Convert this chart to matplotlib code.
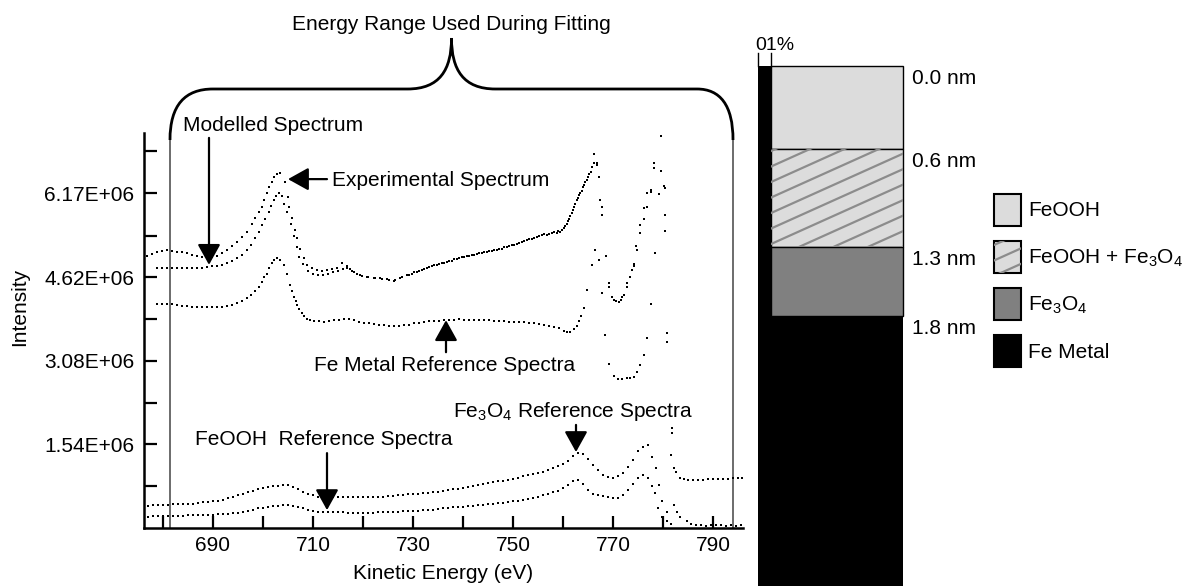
import numpy as np
import matplotlib
matplotlib.use('Agg')
import matplotlib.pyplot as plt
from matplotlib.path import Path
from matplotlib.patches import PathPatch, Rectangle
from matplotlib.transforms import blended_transform_factory

plt.rcParams['font.family'] = ['Liberation Sans', 'DejaVu Sans']
plt.rcParams['font.size'] = 15
plt.rcParams['mathtext.fontset'] = 'custom'
plt.rcParams['mathtext.rm'] = 'Liberation Sans'
plt.rcParams['mathtext.default'] = 'rm'

# ---- spectra, intensity in units of 1E+06 ----
# experimental spectrum (eV, intensity)
exp_pts = [(676.7, 5.01), (677.7, 5.05), (678.7, 5.09), (679.7, 5.11), (680.7, 5.12), (681.7, 5.11),
           (682.7, 5.09), (683.7, 5.08), (684.7, 5.06), (685.7, 5.03), (686.7, 5.01), (687.7, 5.00),
           (688.7, 4.99), (689.7, 5.00), (690.7, 5.02), (691.7, 5.07), (692.7, 5.12), (693.7, 5.20),
           (694.7, 5.28), (695.7, 5.37), (696.7, 5.46), (697.7, 5.60), (698.4, 5.71), (699.1, 5.82),
           (699.7, 5.92), (700.2, 6.05), (700.7, 6.17), (701.2, 6.28), (701.7, 6.38), (702.2, 6.46),
           (702.7, 6.52), (703.4, 6.54), (704.4, 6.38), (705.0, 6.10), (705.3, 5.92), (705.9, 5.71),
           (706.4, 5.49), (706.9, 5.34), (707.4, 5.15), (708.1, 4.97), (708.7, 4.85), (709.7, 4.79),
           (710.7, 4.75), (711.7, 4.74), (712.7, 4.75), (713.7, 4.77), (714.7, 4.79), (715.7, 4.88),
           (716.7, 4.83), (717.4, 4.78), (718.1, 4.72), (719.4, 4.66), (720.7, 4.63), (722.1, 4.61),
           (723.4, 4.60), (724.7, 4.58), (726.1, 4.56), (727.4, 4.60), (728.7, 4.66), (729.7, 4.69),
           (730.7, 4.72), (731.7, 4.76), (732.7, 4.79), (733.7, 4.82), (734.7, 4.85), (735.7, 4.88),
           (736.7, 4.91), (737.7, 4.93), (738.7, 4.95), (739.7, 4.99), (740.7, 5.01), (741.7, 5.03),
           (742.7, 5.05), (743.7, 5.07), (744.7, 5.09), (745.7, 5.11), (746.7, 5.13), (747.7, 5.15),
           (748.7, 5.18), (749.7, 5.21), (750.7, 5.24), (751.7, 5.27), (752.7, 5.31), (753.7, 5.33),
           (754.7, 5.37), (755.7, 5.40), (756.7, 5.40), (757.7, 5.43), (758.7, 5.44), (759.4, 5.46),
           (760.1, 5.52), (760.7, 5.61), (761.2, 5.70), (761.7, 5.80), (762.2, 5.92), (762.7, 6.04),
           (763.2, 6.13), (763.7, 6.22), (764.2, 6.32), (764.7, 6.41), (765.2, 6.52), (765.7, 6.66),
           (766.3, 6.90), (766.8, 6.72), (767.1, 6.47), (767.7, 5.92), (767.9, 5.77), (769.3, 4.51),
           (770.1, 4.20), (771.1, 4.17), (771.9, 4.26), (772.7, 4.45), (773.4, 4.63), (774.1, 4.87),
           (774.6, 5.20), (775.4, 5.58), (776.1, 5.89), (776.9, 6.17), (777.5, 6.23), (778.3, 6.73),
           (778.9, 7.43), (779.6, 7.22), (780.4, 6.26), (780.4, 5.77), (780.4, 5.47)]

# modelled spectrum
model_pts = [(678.8, 4.79), (679.8, 4.80), (680.8, 4.80), (681.8, 4.80), (682.8, 4.80), (683.8, 4.80),
             (684.8, 4.80), (685.8, 4.80), (686.8, 4.80), (687.8, 4.80), (688.8, 4.81), (689.8, 4.82),
             (690.7, 4.83), (691.7, 4.85), (692.7, 4.88), (693.7, 4.92), (694.7, 4.97), (695.7, 5.04),
             (696.7, 5.12), (697.6, 5.22), (698.4, 5.34), (699.1, 5.46), (699.7, 5.58), (700.4, 5.70),
             (701.1, 5.83), (701.6, 5.94), (702.1, 6.04), (702.6, 6.12), (703.1, 6.17), (703.7, 6.11),
             (704.3, 5.98), (704.8, 5.82), (705.6, 5.60), (706.2, 5.38), (706.7, 5.18), (707.3, 5.00),
             (708.0, 4.86), (709.0, 4.74), (710.0, 4.68), (711.0, 4.66), (712.0, 4.67), (713.0, 4.69),
             (714.0, 4.71), (715.0, 4.74), (716.0, 4.78), (716.9, 4.79), (717.8, 4.74), (718.8, 4.69),
             (719.8, 4.65), (721.0, 4.63), (722.5, 4.60), (723.8, 4.59), (725.2, 4.57), (726.5, 4.57),
             (727.8, 4.62), (729.2, 4.67), (730.2, 4.71), (731.2, 4.74), (732.2, 4.78), (733.2, 4.81),
             (734.2, 4.84), (735.2, 4.87), (736.2, 4.89), (737.2, 4.92), (738.2, 4.95), (739.2, 4.97),
             (740.2, 5.00), (741.2, 5.02), (742.2, 5.04), (743.2, 5.06), (744.2, 5.08), (745.2, 5.10),
             (746.2, 5.12), (747.2, 5.14), (748.2, 5.17), (749.2, 5.20), (750.2, 5.22), (751.2, 5.26),
             (752.2, 5.29), (753.2, 5.32), (754.2, 5.35), (755.2, 5.38), (756.2, 5.42), (757.2, 5.41),
             (758.2, 5.45), (759.0, 5.47), (759.8, 5.50), (760.4, 5.56), (761.0, 5.66), (761.5, 5.75),
             (762.0, 5.86), (762.5, 5.98), (763.0, 6.09), (763.5, 6.18), (764.0, 6.28), (764.5, 6.37),
             (765.0, 6.47), (765.6, 6.57), (766.1, 6.72), (766.9, 6.69), (767.5, 6.05), (768.5, 5.01),
             (769.2, 4.45), (769.9, 4.26), (770.6, 4.19), (771.5, 4.20), (772.1, 4.30), (772.9, 4.52),
             (773.7, 4.75), (774.1, 4.82), (774.9, 5.13), (775.4, 5.43), (776.1, 5.69), (776.7, 5.91),
             (777.5, 6.20), (778.3, 6.63), (778.9, 7.30), (779.6, 6.58), (779.1, 6.16), (780.2, 6.30)]

# Fe metal reference spectrum
metal_pts = [(678.8, 4.13), (679.8, 4.13), (680.8, 4.13), (681.8, 4.12), (682.8, 4.11), (683.8, 4.10),
             (684.8, 4.09), (685.8, 4.08), (686.8, 4.08), (687.8, 4.08), (688.8, 4.08), (689.8, 4.08),
             (690.8, 4.08), (691.8, 4.08), (692.8, 4.09), (693.8, 4.11), (694.8, 4.14), (695.8, 4.18),
             (696.7, 4.23), (697.6, 4.29), (698.4, 4.36), (699.1, 4.45), (699.7, 4.54), (700.2, 4.62),
             (700.7, 4.69), (701.2, 4.79), (701.7, 4.88), (702.2, 4.94), (702.7, 4.98), (703.4, 4.94),
             (704.2, 4.85), (704.8, 4.68), (705.4, 4.48), (705.8, 4.36), (706.2, 4.26), (706.6, 4.18),
             (706.9, 4.11), (707.3, 4.03), (707.7, 3.96), (708.2, 3.90), (708.7, 3.86), (709.4, 3.83),
             (710.1, 3.82), (711.1, 3.81), (712.1, 3.80), (713.1, 3.81), (714.1, 3.83), (715.1, 3.84),
             (716.1, 3.86), (717.1, 3.85), (718.1, 3.83), (719.1, 3.80), (720.1, 3.78), (721.1, 3.77),
             (722.1, 3.76), (723.1, 3.75), (724.1, 3.74), (725.1, 3.73), (726.1, 3.72), (727.1, 3.73),
             (728.1, 3.74), (729.1, 3.75), (730.1, 3.77), (731.1, 3.78), (732.1, 3.80), (733.1, 3.81),
             (734.1, 3.82), (735.1, 3.82), (736.1, 3.83), (737.1, 3.83), (738.1, 3.84), (739.1, 3.85),
             (740.1, 3.84), (741.1, 3.84), (742.1, 3.84), (743.1, 3.84), (744.1, 3.83), (745.1, 3.83),
             (746.1, 3.82), (747.1, 3.82), (748.1, 3.81), (749.1, 3.80), (750.1, 3.80), (751.1, 3.79),
             (752.1, 3.79), (753.1, 3.78), (754.1, 3.77), (755.1, 3.76), (756.1, 3.74), (757.1, 3.72),
             (758.1, 3.70), (759.1, 3.68), (760.1, 3.64), (760.8, 3.62), (761.4, 3.62), (762.1, 3.66),
             (762.7, 3.73), (763.2, 3.82), (763.6, 3.90), (764.2, 4.05), (764.9, 4.39), (765.9, 4.85),
             (766.4, 5.12), (767.1, 4.94), (767.9, 4.34), (768.4, 3.56), (769.1, 3.03), (770.1, 2.80),
             (771.0, 2.75), (771.9, 2.74), (772.7, 2.76), (773.4, 2.77), (774.1, 2.79), (774.9, 2.88),
             (775.4, 3.00), (776.1, 3.19), (776.7, 3.51), (777.6, 4.13), (778.4, 5.06), (780.9, 3.59),
             (780.9, 3.42)]

# reference spectra on a 1 eV grid, 677 ... 777 eV
ref_ev = list(range(677, 778))
fe3o4_vals = [0.41, 0.42, 0.42, 0.43, 0.43, 0.44, 0.44, 0.44, 0.45, 0.45,
              0.46, 0.47, 0.48, 0.49, 0.50, 0.52, 0.55, 0.58, 0.60, 0.63,
              0.66, 0.68, 0.71, 0.73, 0.75, 0.77, 0.78, 0.79, 0.79, 0.76,
              0.72, 0.67, 0.62, 0.60, 0.58, 0.58, 0.58, 0.58, 0.58, 0.57,
              0.57, 0.57, 0.57, 0.57, 0.57, 0.58, 0.58, 0.58, 0.59, 0.59,
              0.60, 0.61, 0.62, 0.62, 0.63, 0.64, 0.65, 0.66, 0.67, 0.69,
              0.70, 0.71, 0.72, 0.73, 0.75, 0.77, 0.79, 0.81, 0.83, 0.84,
              0.86, 0.87, 0.88, 0.90, 0.92, 0.95, 0.97, 0.99, 1.01, 1.04,
              1.07, 1.10, 1.14, 1.18, 1.24, 1.33, 1.39, 1.36, 1.28, 1.16,
              1.06, 0.98, 0.94, 0.93, 0.96, 1.02, 1.12, 1.25, 1.42, 1.50,
              1.53]
fe3o4_tail = [(777.9, 1.31), (778.6, 1.10), (779.1, 0.79), (779.9, 0.49), (780.7, 0.30), (781.6, 1.35),
              (781.7, 1.84), (781.8, 1.75), (782.3, 1.10), (782.5, 1.03), (783.4, 0.92), (784.2, 0.90),
              (785.0, 0.89), (786.0, 0.89), (787.0, 0.89), (788.0, 0.89), (789.0, 0.90), (790.0, 0.90),
              (791.0, 0.90), (792.0, 0.91), (793.0, 0.91), (794.0, 0.92), (795.0, 0.93), (795.7, 0.93)]
feooh_vals = [0.21, 0.22, 0.22, 0.23, 0.23, 0.23, 0.23, 0.23, 0.24, 0.24,
              0.24, 0.24, 0.24, 0.24, 0.25, 0.26, 0.26, 0.27, 0.28, 0.30,
              0.32, 0.34, 0.36, 0.37, 0.39, 0.40, 0.41, 0.42, 0.42, 0.41,
              0.39, 0.36, 0.33, 0.31, 0.30, 0.30, 0.30, 0.29, 0.29, 0.29,
              0.28, 0.28, 0.28, 0.28, 0.28, 0.28, 0.29, 0.29, 0.29, 0.30,
              0.30, 0.31, 0.31, 0.32, 0.32, 0.33, 0.33, 0.34, 0.35, 0.36,
              0.37, 0.38, 0.39, 0.39, 0.40, 0.41, 0.42, 0.43, 0.44, 0.45,
              0.46, 0.46, 0.47, 0.49, 0.50, 0.52, 0.54, 0.56, 0.58, 0.60,
              0.63, 0.66, 0.69, 0.73, 0.79, 0.86, 0.89, 0.82, 0.70, 0.63,
              0.61, 0.59, 0.57, 0.55, 0.55, 0.60, 0.70, 0.82, 0.93, 0.98,
              0.92]
feooh_tail = [(777.8, 0.78), (778.4, 0.64), (779.0, 0.36), (779.7, 0.21), (780.7, 0.12), (781.5, 0.08),
              (782.3, 0.42), (782.7, 0.30), (783.4, 0.21), (784.7, 0.12), (785.5, 0.07), (786.5, 0.06),
              (787.5, 0.05), (788.5, 0.04), (789.5, 0.06), (790.5, 0.05), (791.5, 0.05), (792.5, 0.04),
              (793.5, 0.05), (794.5, 0.04), (795.5, 0.05)]

fit_range = (681.4, 794.0)   # eV, energy range used during fitting

xtick_pos = [680, 690, 700, 710, 720, 730, 740, 750, 760, 770, 780, 790]
xtick_labels = ['', '690', '', '710', '', '730', '', '750', '', '770', '', '790']
ytick_labels = ['1.54E+06', '3.08E+06', '4.62E+06', '6.17E+06']
ytick_minor = [0.77, 2.31, 3.85, 5.39, 6.94]

# ---- depth profile ----
layer_names = ['FeOOH', 'FeOOH + Fe$_3$O$_4$', 'Fe$_3$O$_4$', 'Fe Metal']
layer_colors = ['#dcdcdc', '#dcdcdc', '#808080', 'black']
layer_tops = [0.0, 0.6, 1.3, 1.8]    # nm
depth_labels = ['0.0 nm', '0.6 nm', '1.3 nm', '1.8 nm']

W, H = 1185, 586
fig = plt.figure(figsize=(W / 100, H / 100), dpi=100)


def box(x0, y0, x1, y1):
    # pixel box (origin top left) -> figure fraction rect
    return [x0 / W, 1 - y1 / H, (x1 - x0) / W, (y1 - y0) / H]


ax = fig.add_axes(box(144, 133, 743, 528))
ax.set_xlim(676.2, 796.0)
ax.set_ylim(0, 7.28)

dot = dict(linestyle='none', marker='s', ms=2.0, mew=0, color='black', zorder=3)
for pts in [exp_pts, model_pts, metal_pts, fe3o4_tail, feooh_tail]:
    e, v = zip(*pts)
    ax.plot(e, v, **dot)
ax.plot(ref_ev, fe3o4_vals, **dot)
ax.plot(ref_ev, feooh_vals, **dot)

for x in fit_range:
    ax.axvline(x, ymin=0, ymax=(528 - 140) / 395, color='#606060', lw=1.3, zorder=1)

ax.set_xticks(xtick_pos)
ax.set_xticklabels(xtick_labels)
ax.set_yticks([float(s) / 1e6 for s in ytick_labels])
ax.set_yticklabels(ytick_labels)
ax.set_yticks(ytick_minor, minor=True)
ax.tick_params(which='both', direction='in', length=9, width=1.6, labelsize=15)
ax.tick_params(axis='y', pad=7)
ax.tick_params(axis='x', pad=6)
for s in ['top', 'right']:
    ax.spines[s].set_visible(False)
for s in ['left', 'bottom']:
    ax.spines[s].set_linewidth(1.8)

ax.set_ylabel('Intensity', va='center', fontsize=15)
ax.yaxis.set_label_coords(-0.207, 0.56)
ax.set_xlabel('Kinetic Energy (eV)', va='center', fontsize=15)
ax.xaxis.set_label_coords(0.5, -0.116)

arrow = dict(arrowstyle='-|>,head_length=0.9,head_width=0.5', color='black', lw=1.6,
             mutation_scale=14, shrinkA=0, shrinkB=0)
ax.annotate('', xy=(689.2, 4.85), xytext=(689.2, 7.19), arrowprops=arrow, annotation_clip=False)
ax.text(684.0, 7.41, 'Modelled Spectrum', ha='left', va='center')
ax.annotate('', xy=(705.0, 6.43), xytext=(712.8, 6.43), arrowprops=arrow)
ax.text(713.8, 6.40, 'Experimental Spectrum', ha='left', va='center')
ax.annotate('', xy=(736.6, 3.83), xytext=(736.6, 3.24), arrowprops=arrow)
ax.text(736.4, 2.99, 'Fe Metal Reference Spectra', ha='center', va='center')
ax.annotate('', xy=(712.8, 0.33), xytext=(712.8, 1.38), arrowprops=arrow)
ax.text(686.4, 1.64, 'FeOOH  Reference Spectra', ha='left', va='center')
ax.annotate('', xy=(762.6, 1.40), xytext=(762.6, 1.90), arrowprops=arrow)
ax.text(738.0, 2.14, 'Fe$_3$O$_4$ Reference Spectra', ha='left', va='center')

# overlay in pixel coordinates for the brace and the legend
ov = fig.add_axes([0, 0, 1, 1])
ov.set_xlim(0, W)
ov.set_ylim(H, 0)
ov.axis('off')

xl = ax.transData.transform((fit_range[0], 0))[0]
xr = ax.transData.transform((fit_range[1], 0))[0]
xm = (xl + xr) / 2
yb, yh, yt = 140, 89, 38
verts = [(xl, yb), (xl, yh + 16), (xl + 15, yh), (xl + 43, yh),
         (xm - 44, yh), (xm - 12, yh), (xm, yh - 19), (xm, yt),
         (xm, yh - 19), (xm + 12, yh), (xm + 44, yh),
         (xr - 36, yh), (xr - 13, yh), (xr, yh + 16), (xr, yb)]
codes = [Path.MOVETO, Path.CURVE4, Path.CURVE4, Path.CURVE4,
         Path.LINETO, Path.CURVE4, Path.CURVE4, Path.CURVE4,
         Path.CURVE4, Path.CURVE4, Path.CURVE4,
         Path.LINETO, Path.CURVE4, Path.CURVE4, Path.CURVE4]
ov.add_patch(PathPatch(Path(verts, codes), fill=False, lw=2.0, edgecolor='black'))
ov.text(xm, 24, 'Energy Range Used During Fitting', ha='center', va='center')

# ---- depth column ----
col_top = 66
nm_px = 139.1
ax2 = fig.add_axes(box(758, col_top, 903, H))
depth_max = (H - col_top) / nm_px
ax2.set_xlim(0, 1)
ax2.set_ylim(depth_max, 0)
ax2.axis('off')
strip = 13 / 145

ax2.bar(0, depth_max, width=1, bottom=0, align='edge', color=layer_colors[3], lw=0, zorder=1)
bars = []
for i in range(3):
    b = ax2.bar(strip, layer_tops[i + 1] - layer_tops[i], width=1 - strip, bottom=layer_tops[i],
                align='edge', facecolor=layer_colors[i], edgecolor='black', lw=1.0, clip_on=False,
                zorder=2)
    bars.append(b[0])

# shallow diagonal hatching on the mixed layer
slope = 0.45 * 145 / nm_px
for c in np.arange(0.5, 1.9, 15.5 / nm_px):
    ln, = ax2.plot([strip, 1], [c, c - slope * (1 - strip)], color='#8c8c8c', lw=1.6, zorder=3)
    ln.set_clip_path(bars[1])

bt = blended_transform_factory(ax2.transAxes, ax2.transData)
for d, lab in zip(layer_tops, depth_labels):
    ax2.text(1.062, d + 0.02, lab, transform=bt, ha='left', va='top', fontsize=15)

for x in [0, strip]:
    ax2.plot([x, x], [1, 1 + 13 / 520], transform=ax2.transAxes, clip_on=False, color='black', lw=1.0)
ax2.text(-0.02, 1 + 20 / 520, '01%', transform=ax2.transAxes, ha='left', va='center', fontsize=14)

# legend
lx, lw_, lh = 994, 27, 32
ltops = [194, 241, 288, 335]
for i, (name, colr) in enumerate(zip(layer_names, layer_colors)):
    r = Rectangle((lx, ltops[i]), lw_, lh, facecolor=colr, edgecolor='black', lw=1.5)
    ov.add_patch(r)
    if i == 1:
        for c in np.arange(ltops[i] + 4, ltops[i] + lh + 20, 15.5):
            ln, = ov.plot([lx, lx + lw_], [c, c - 0.45 * lw_], color='#8c8c8c', lw=1.6)
            ln.set_clip_path(r)
    ov.text(lx + lw_ + 7, ltops[i] + lh / 2 + 1, name, ha='left', va='center', fontsize=15)

fig.savefig('out.png', dpi=100)
